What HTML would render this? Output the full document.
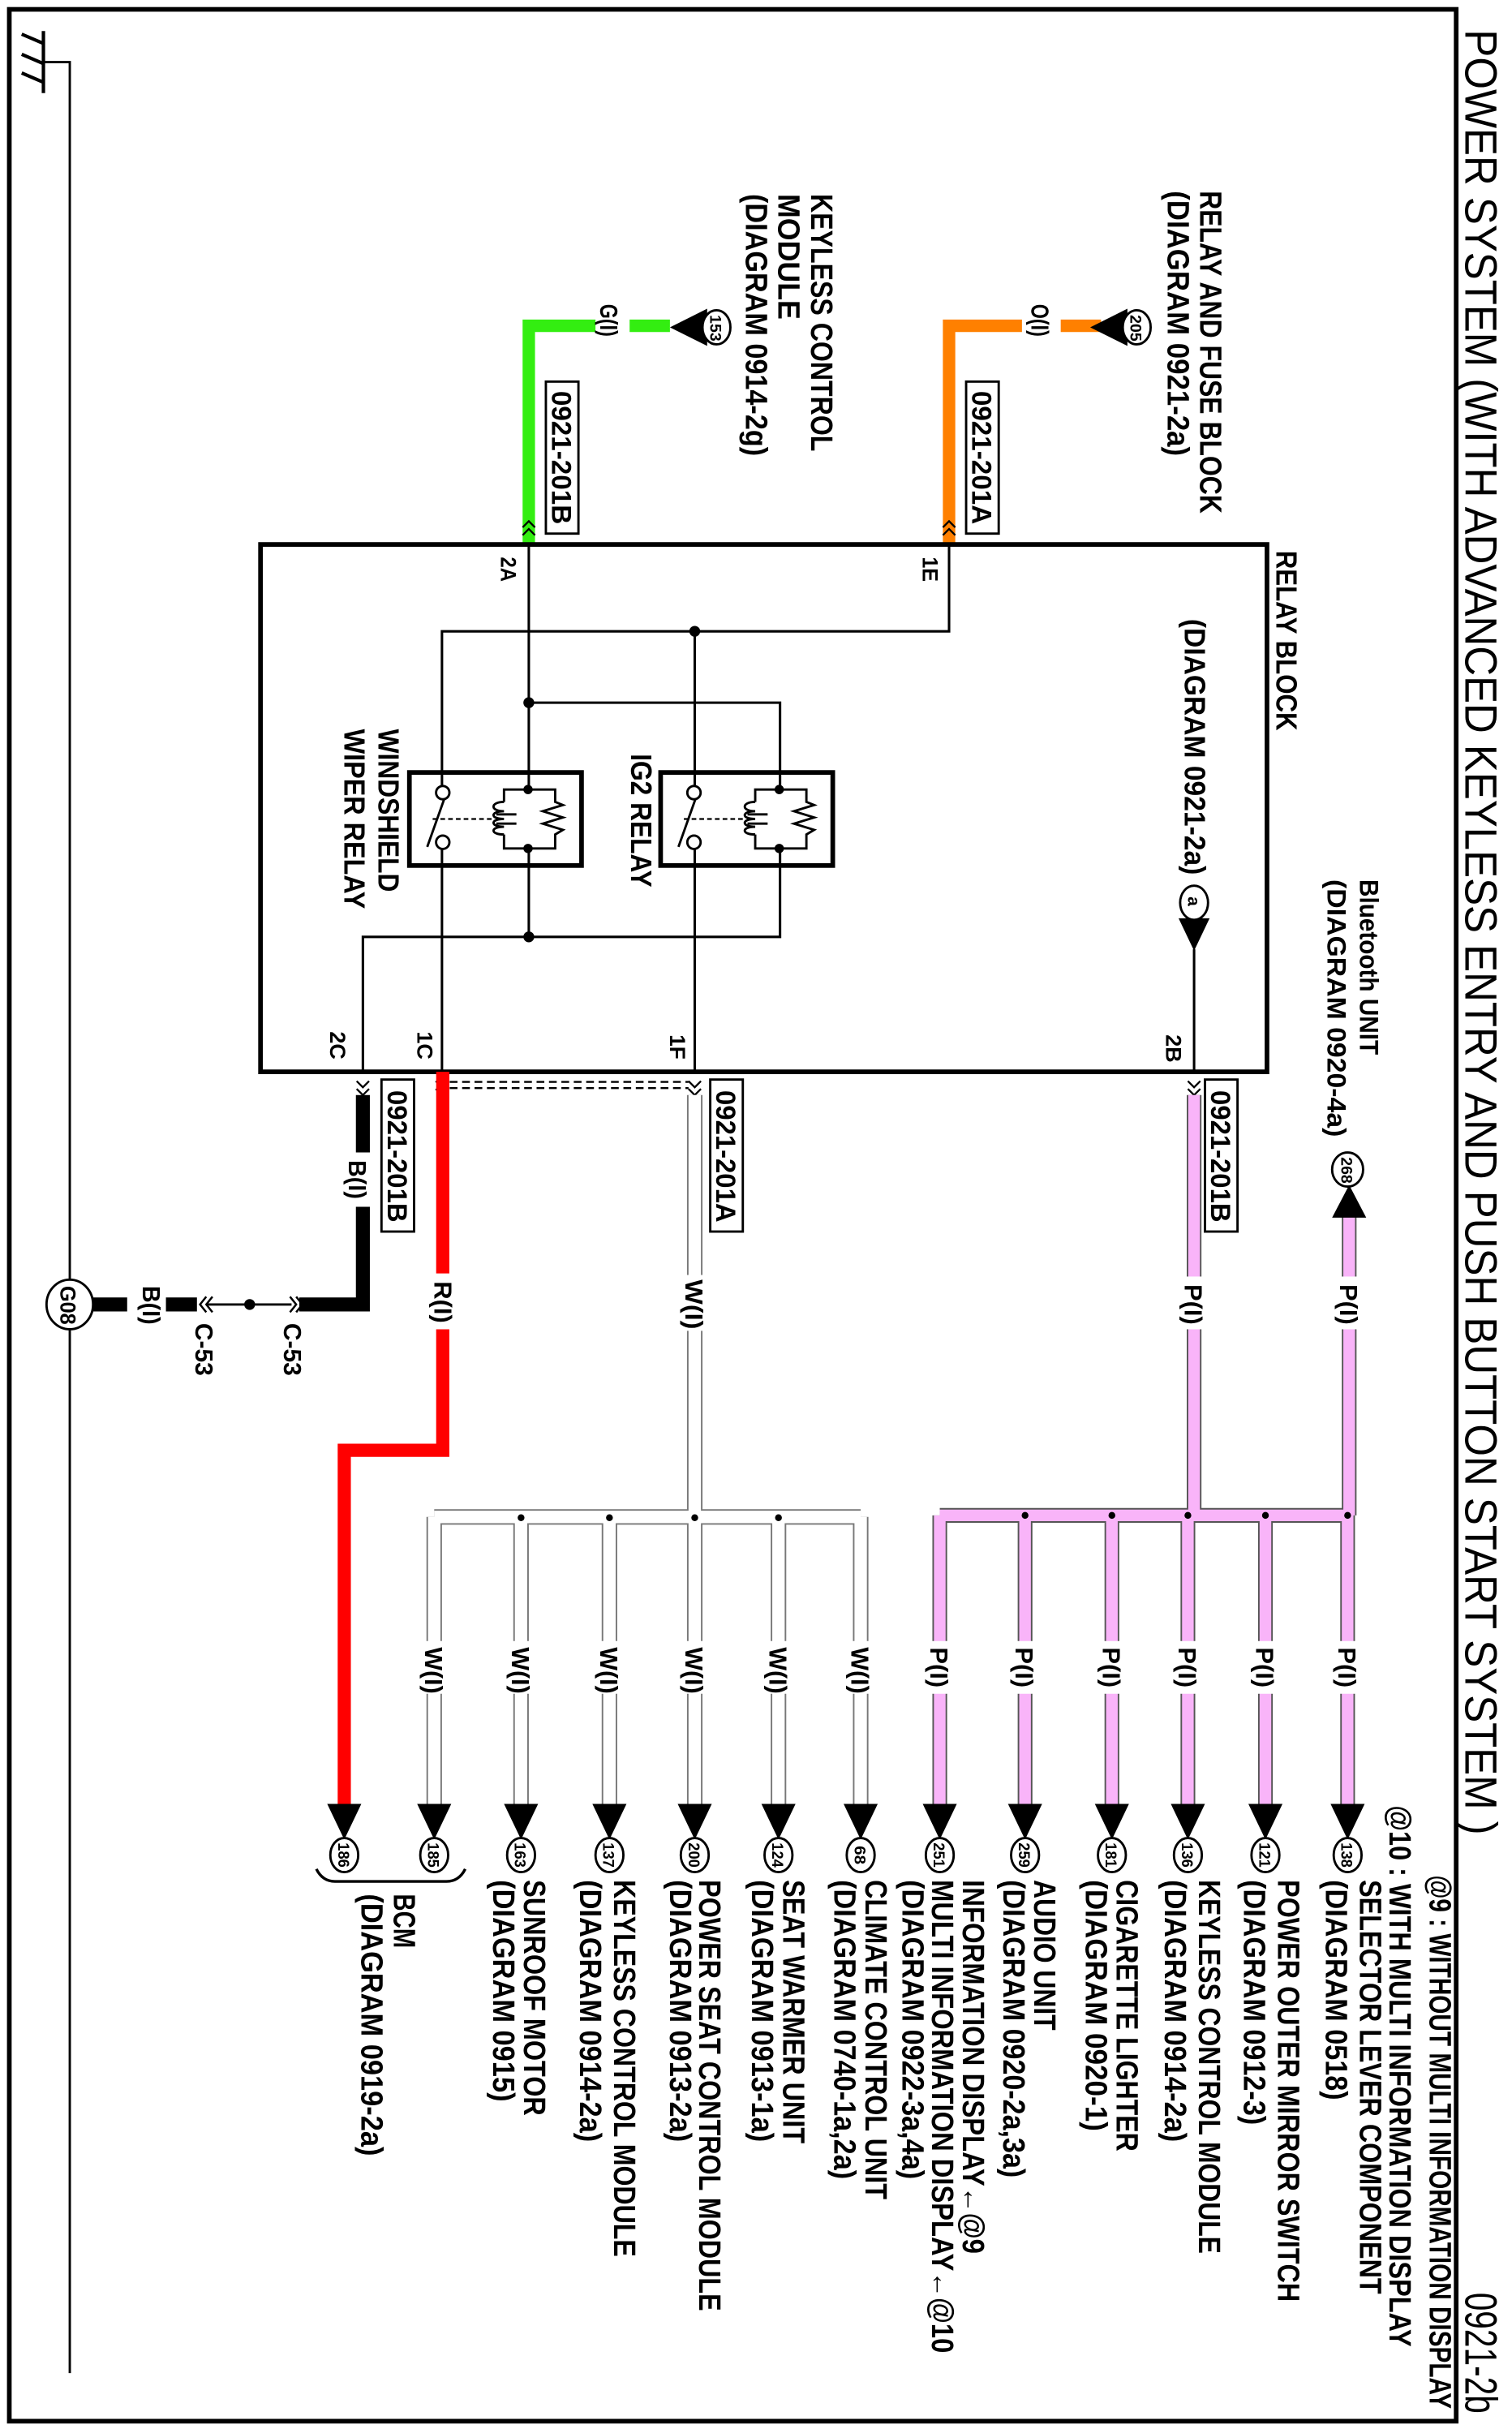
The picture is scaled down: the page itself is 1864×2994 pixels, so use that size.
<!DOCTYPE html>
<html><head><meta charset="utf-8"><style>
html,body{margin:0;padding:0;background:#fff;}
svg{display:block;}
text{font-family:"Liberation Sans",Arial,sans-serif;font-weight:bold;fill:#000;}
</style></head><body>
<svg width="1864" height="2994" viewBox="0 0 975 1566" xmlns="http://www.w3.org/2000/svg">
<rect x="0" y="0" width="975" height="1566" fill="#fff"/>
<!-- frame -->
<rect x="6" y="6" width="933" height="1555" fill="none" stroke="#000" stroke-width="3"/>
<!-- title -->
<text transform="translate(945,19) rotate(90)" font-size="29" style="font-weight:normal" textLength="1164" lengthAdjust="spacingAndGlyphs">POWER SYSTEM (WITH ADVANCED KEYLESS ENTRY AND PUSH BUTTON START SYSTEM )</text>
<text transform="translate(945,1478) rotate(90)" font-size="29" style="font-weight:normal" textLength="78" lengthAdjust="spacingAndGlyphs">0921-2b</text>

<!-- ground -->
<g stroke="#000" stroke-width="2.2" fill="none">
<line x1="28" y1="20" x2="28" y2="60"/>
<line x1="14" y1="22" x2="28" y2="28"/>
<line x1="14" y1="35" x2="28" y2="41"/>
<line x1="14" y1="47" x2="28" y2="53"/>
<polyline points="28,40 45,40 45,1530" stroke-width="1.5"/>
</g>

<!-- top inputs -->
<text transform="translate(774,123) rotate(90)" font-size="20" textLength="208" lengthAdjust="spacingAndGlyphs">RELAY AND FUSE BLOCK</text>
<text transform="translate(753,123) rotate(90)" font-size="20" textLength="171" lengthAdjust="spacingAndGlyphs">(DIAGRAM 0921-2a)</text>
<text transform="translate(523,125) rotate(90)" font-size="20" textLength="166" lengthAdjust="spacingAndGlyphs">KEYLESS CONTROL</text>
<text transform="translate(502,125) rotate(90)" font-size="20" textLength="81" lengthAdjust="spacingAndGlyphs">MODULE</text>
<text transform="translate(481,125) rotate(90)" font-size="20" textLength="169" lengthAdjust="spacingAndGlyphs">(DIAGRAM 0914-2g)</text>

<!-- orange -->
<g stroke="#ff8000" stroke-width="8" fill="none">
<line x1="710" y1="210" x2="684" y2="210"/>
<polyline points="659,210 612,210 612,350"/>
</g>
<text transform="translate(665,196) rotate(90)" font-size="16" textLength="21" lengthAdjust="spacingAndGlyphs">O(I)</text>
<polygon points="703,211 727,199 727,223" fill="#000"/>
<ellipse cx="733" cy="211" rx="9" ry="11" fill="#fff" stroke="#000" stroke-width="1.5"/>
<text transform="translate(729,203) rotate(90)" font-size="10" textLength="17" lengthAdjust="spacingAndGlyphs">205</text>
<rect x="623" y="246" width="21" height="98" fill="#fff" stroke="#000" stroke-width="1.5"/>
<text transform="translate(627,252) rotate(90)" font-size="18" textLength="86" lengthAdjust="spacingAndGlyphs">0921-201A</text>

<!-- green -->
<g stroke="#33ee11" stroke-width="8" fill="none">
<line x1="432" y1="210" x2="406" y2="210"/>
<polyline points="384,210 341,210 341,350"/>
</g>
<text transform="translate(387,196) rotate(90)" font-size="16" textLength="21" lengthAdjust="spacingAndGlyphs">G(I)</text>
<polygon points="432,211 456,199 456,223" fill="#000"/>
<ellipse cx="462" cy="211" rx="9" ry="11" fill="#fff" stroke="#000" stroke-width="1.5"/>
<text transform="translate(458,203) rotate(90)" font-size="10" textLength="17" lengthAdjust="spacingAndGlyphs">153</text>
<rect x="352" y="246" width="21" height="98" fill="#fff" stroke="#000" stroke-width="1.5"/>
<text transform="translate(356,252) rotate(90)" font-size="18" textLength="86" lengthAdjust="spacingAndGlyphs">0921-201B</text>

<!-- top chevrons -->
<g stroke="#000" stroke-width="1.2" fill="none">
<polyline points="608,340 612,336 616,340"/><polyline points="608,345 612,341 616,345"/>
<polyline points="337,340 341,336 345,340"/><polyline points="337,345 341,341 345,345"/>
</g>

<!-- relay block -->
<rect x="168" y="351" width="649" height="340" fill="none" stroke="#000" stroke-width="3"/>
<text transform="translate(823,355) rotate(90)" font-size="19" textLength="116" lengthAdjust="spacingAndGlyphs">RELAY BLOCK</text>
<text transform="translate(764,399) rotate(90)" font-size="19" textLength="165" lengthAdjust="spacingAndGlyphs">(DIAGRAM 0921-2a)</text>
<text transform="translate(244,470) rotate(90)" font-size="19" textLength="105" lengthAdjust="spacingAndGlyphs">WINDSHIELD</text>
<text transform="translate(222,470) rotate(90)" font-size="19" textLength="116" lengthAdjust="spacingAndGlyphs">WIPER RELAY</text>
<text transform="translate(407,486) rotate(90)" font-size="19" textLength="86" lengthAdjust="spacingAndGlyphs">IG2 RELAY</text>
<g font-size="14">
<text transform="translate(323,359) rotate(90)" font-size="14" textLength="16" lengthAdjust="spacingAndGlyphs">2A</text>
<text transform="translate(595,359) rotate(90)" font-size="14" textLength="16" lengthAdjust="spacingAndGlyphs">1E</text>
<text transform="translate(213,665) rotate(90)" font-size="14" textLength="18" lengthAdjust="spacingAndGlyphs">2C</text>
<text transform="translate(269,665) rotate(90)" font-size="14" textLength="18" lengthAdjust="spacingAndGlyphs">1C</text>
<text transform="translate(432,667) rotate(90)" font-size="14" textLength="16" lengthAdjust="spacingAndGlyphs">1F</text>
<text transform="translate(752,667) rotate(90)" font-size="14" textLength="18" lengthAdjust="spacingAndGlyphs">2B</text>
</g>
<!-- internal wiring -->
<g stroke="#000" stroke-width="1.6" fill="none">
<polyline points="612,351 612,407 285,407 285,507"/>
<line x1="448" y1="407" x2="448" y2="507"/>
<line x1="341" y1="351" x2="341" y2="509"/>
<polyline points="341,453 503,453 503,509"/>
<line x1="285" y1="547" x2="285" y2="691"/>
<line x1="448" y1="547" x2="448" y2="691"/>
<line x1="341" y1="547" x2="341" y2="604"/>
<polyline points="234,691 234,604 503,604 503,547"/>
<line x1="770" y1="612" x2="770" y2="691"/>
</g>
<g fill="#000">
<circle cx="448" cy="407" r="3.5"/><circle cx="341" cy="453" r="3.5"/><circle cx="341" cy="604" r="3.5"/>
</g>
<!-- relays -->
<g id="rl">
<rect x="264" y="498" width="111" height="60" fill="none" stroke="#000" stroke-width="3"/>
<circle cx="285.5" cy="511" r="4.3" fill="#fff" stroke="#000" stroke-width="1.5"/>
<circle cx="285.5" cy="543" r="4.3" fill="#fff" stroke="#000" stroke-width="1.5"/>
<line x1="275.5" y1="546" x2="286.5" y2="515" stroke="#000" stroke-width="1.5"/>
<line x1="279" y1="528" x2="318" y2="528" stroke="#000" stroke-width="1.2" stroke-dasharray="3,2"/>
<polyline points="325,517 325,509 358,509 358,517 363,519 350,523 363,527 350,531 363,535 358,538 358,547 325,547 325,538" fill="none" stroke="#000" stroke-width="1.5"/>
<path d="M325,517 c-9,0 -9,6 0,6 c-9,0 -9,5 0,5 c-9,0 -9,5 0,5 c-9,0 -9,5 0,5" fill="none" stroke="#000" stroke-width="1.5"/>
<line x1="320" y1="525" x2="333" y2="525" stroke="#000" stroke-width="1.5"/>
<line x1="320" y1="531" x2="333" y2="531" stroke="#000" stroke-width="1.5"/>
<circle cx="340.5" cy="509" r="3" fill="#000"/><circle cx="340.5" cy="547" r="3" fill="#000"/>
</g>
<use href="#rl" transform="translate(162,0)"/>
<!-- a -->
<polygon points="760,592 780,592 770,613" fill="#000"/>
<ellipse cx="770" cy="582" rx="9" ry="11" fill="#fff" stroke="#000" stroke-width="1.5"/>
<text transform="translate(766,578) rotate(90)" font-size="11">a</text>

<!-- bottom chevrons -->
<g stroke="#000" stroke-width="1.2" fill="none">
<polyline points="230,697 234,701 238,697"/><polyline points="230,702 234,706 238,702"/>
<polyline points="281,697 285,701 289,697"/><polyline points="281,702 285,706 289,702"/>
<polyline points="444,697 448,701 452,697"/><polyline points="444,702 448,706 452,702"/>
<polyline points="766,697 770,701 774,697"/><polyline points="766,702 770,706 774,702"/>
<line x1="290" y1="697.5" x2="444" y2="697.5" stroke-dasharray="5,3"/>
<line x1="290" y1="701.5" x2="444" y2="701.5" stroke-dasharray="5,3"/>
</g>

<!-- black wire -->
<g stroke="#000" stroke-width="9" fill="none">
<line x1="234" y1="706" x2="234" y2="743"/>
<polyline points="234,778 234,841 193,841"/>
<line x1="127" y1="841" x2="107" y2="841"/>
<line x1="82" y1="841" x2="58" y2="841"/>
</g>
<line x1="133" y1="841" x2="188" y2="841" stroke="#000" stroke-width="1.5"/>
<circle cx="161" cy="841" r="3.5" fill="#000"/>
<g stroke="#000" stroke-width="1.3" fill="none">
<polyline points="191,836 195,841 191,846"/><polyline points="187,836 191,841 187,846"/>
<polyline points="133,836 129,841 133,846"/><polyline points="137,836 133,841 137,846"/>
</g>
<text transform="translate(225,748) rotate(90)" font-size="16" textLength="25" lengthAdjust="spacingAndGlyphs">B(I)</text>
<text transform="translate(92,829) rotate(90)" font-size="16" textLength="25" lengthAdjust="spacingAndGlyphs">B(I)</text>
<text transform="translate(183,853) rotate(90)" font-size="16" textLength="34" lengthAdjust="spacingAndGlyphs">C-53</text>
<text transform="translate(126,853) rotate(90)" font-size="16" textLength="34" lengthAdjust="spacingAndGlyphs">C-53</text>
<ellipse cx="45" cy="841" rx="15" ry="16" fill="#fff" stroke="#000" stroke-width="1.5"/>
<text transform="translate(39,829) rotate(90)" font-size="14" textLength="25" lengthAdjust="spacingAndGlyphs">G08</text>
<rect x="246" y="696" width="21" height="98" fill="#fff" stroke="#000" stroke-width="1.5"/>
<text transform="translate(250,703) rotate(90)" font-size="18" textLength="85" lengthAdjust="spacingAndGlyphs">0921-201B</text>

<!-- red wire -->
<g stroke="#ff0000" stroke-width="8.5" fill="none">
<line x1="285.5" y1="691" x2="285.5" y2="821"/>
<polyline points="285.5,857 285.5,935 222,935 222,1163"/>
</g>
<text transform="translate(280,826) rotate(90)" font-size="16" textLength="27" lengthAdjust="spacingAndGlyphs">R(I)</text>

<!-- white wires -->
<g fill="none" stroke-linejoin="miter">
<g stroke="#777" stroke-width="10">
<path d="M448,706 V978 M280,978 H555 M280,978 V1163 M336,978 V1163 M393,978 V1163 M448,978 V1163 M502,978 V1163 M555,978 V1163"/>
</g>
<g stroke="#fff" stroke-width="8">
<path d="M448,706 V978 M280,978 H555 M280,978 V1163 M336,978 V1163 M393,978 V1163 M448,978 V1163 M502,978 V1163 M555,978 V1163"/>
</g>
</g>
<rect x="440" y="822" width="16" height="36" fill="#fff"/>
<text transform="translate(442,825) rotate(90)" font-size="16" textLength="32" lengthAdjust="spacingAndGlyphs">W(I)</text>
<g fill="#000">
<circle cx="336" cy="978.5" r="2.2"/><circle cx="393" cy="978.5" r="2.2"/><circle cx="448" cy="978.5" r="2.2"/><circle cx="502" cy="978.5" r="2.2"/>
</g>
<rect x="458" y="696" width="21" height="98" fill="#fff" stroke="#000" stroke-width="1.5"/>
<text transform="translate(462,703) rotate(90)" font-size="18" textLength="85" lengthAdjust="spacingAndGlyphs">0921-201A</text>

<!-- pink wires -->
<g fill="none">
<g stroke="#555" stroke-width="9.5">
<path d="M770,706 V977 M870,784 V977 M606,977 H870 M606,977 V1163 M661,977 V1163 M717,977 V1163 M766,977 V1163 M816,977 V1163 M869,977 V1163"/>
</g>
<g stroke="#f9b4f9" stroke-width="7.5">
<path d="M770,706 V977 M870,784 V977 M606,977 H870 M606,977 V1163 M661,977 V1163 M717,977 V1163 M766,977 V1163 M816,977 V1163 M869,977 V1163"/>
</g>
</g>
<g fill="#000">
<circle cx="661" cy="977" r="2.2"/><circle cx="717" cy="977" r="2.2"/><circle cx="766" cy="977" r="2.2"/><circle cx="816" cy="977" r="2.2"/><circle cx="869" cy="977" r="2.2"/>
</g>
<rect x="762" y="823" width="16" height="34" fill="#fff"/>
<text transform="translate(764,828) rotate(90)" font-size="16" textLength="26" lengthAdjust="spacingAndGlyphs">P(I)</text>
<rect x="862" y="823" width="16" height="34" fill="#fff"/>
<text transform="translate(864,828) rotate(90)" font-size="16" textLength="26" lengthAdjust="spacingAndGlyphs">P(I)</text>
<rect x="777" y="696" width="21" height="98" fill="#fff" stroke="#000" stroke-width="1.5"/>
<text transform="translate(781,703) rotate(90)" font-size="18" textLength="85" lengthAdjust="spacingAndGlyphs">0921-201B</text>
<!-- 268 -->
<polygon points="859,785 881,785 870,764" fill="#000"/>
<ellipse cx="869" cy="754" rx="10" ry="11" fill="#fff" stroke="#000" stroke-width="1.5"/>
<text transform="translate(865,746) rotate(90)" font-size="10" textLength="17" lengthAdjust="spacingAndGlyphs">268</text>
<text transform="translate(877,567) rotate(90)" font-size="17" textLength="113" lengthAdjust="spacingAndGlyphs">Bluetooth UNIT</text>
<text transform="translate(856,567) rotate(90)" font-size="17" textLength="166" lengthAdjust="spacingAndGlyphs">(DIAGRAM 0920-4a)</text>

<!-- branch labels -->
<g>
<rect x="272" y="1058" width="16" height="34" fill="#fff"/><text transform="translate(274,1062) rotate(90)" font-size="16" textLength="30" lengthAdjust="spacingAndGlyphs">W(I)</text>
<rect x="328" y="1058" width="16" height="34" fill="#fff"/><text transform="translate(330,1062) rotate(90)" font-size="16" textLength="30" lengthAdjust="spacingAndGlyphs">W(I)</text>
<rect x="385" y="1058" width="16" height="34" fill="#fff"/><text transform="translate(387,1062) rotate(90)" font-size="16" textLength="30" lengthAdjust="spacingAndGlyphs">W(I)</text>
<rect x="440" y="1058" width="16" height="34" fill="#fff"/><text transform="translate(442,1062) rotate(90)" font-size="16" textLength="30" lengthAdjust="spacingAndGlyphs">W(I)</text>
<rect x="494" y="1058" width="16" height="34" fill="#fff"/><text transform="translate(496,1062) rotate(90)" font-size="16" textLength="30" lengthAdjust="spacingAndGlyphs">W(I)</text>
<rect x="547" y="1058" width="16" height="34" fill="#fff"/><text transform="translate(549,1062) rotate(90)" font-size="16" textLength="30" lengthAdjust="spacingAndGlyphs">W(I)</text>
<rect x="598" y="1058" width="16" height="34" fill="#fff"/><text transform="translate(600,1062) rotate(90)" font-size="16" textLength="26" lengthAdjust="spacingAndGlyphs">P(I)</text>
<rect x="653" y="1058" width="16" height="34" fill="#fff"/><text transform="translate(655,1062) rotate(90)" font-size="16" textLength="26" lengthAdjust="spacingAndGlyphs">P(I)</text>
<rect x="709" y="1058" width="16" height="34" fill="#fff"/><text transform="translate(711,1062) rotate(90)" font-size="16" textLength="26" lengthAdjust="spacingAndGlyphs">P(I)</text>
<rect x="758" y="1058" width="16" height="34" fill="#fff"/><text transform="translate(760,1062) rotate(90)" font-size="16" textLength="26" lengthAdjust="spacingAndGlyphs">P(I)</text>
<rect x="808" y="1058" width="16" height="34" fill="#fff"/><text transform="translate(810,1062) rotate(90)" font-size="16" textLength="26" lengthAdjust="spacingAndGlyphs">P(I)</text>
<rect x="861" y="1058" width="16" height="34" fill="#fff"/><text transform="translate(863,1062) rotate(90)" font-size="16" textLength="26" lengthAdjust="spacingAndGlyphs">P(I)</text>
</g>

<!-- destination arrows -->
<g fill="#000">
<polygon points="211,1163 233,1163 222,1186"/>
<polygon points="269,1163 291,1163 280,1186"/>
<polygon points="325,1163 347,1163 336,1186"/>
<polygon points="382,1163 404,1163 393,1186"/>
<polygon points="437,1163 459,1163 448,1186"/>
<polygon points="491,1163 513,1163 502,1186"/>
<polygon points="544,1163 566,1163 555,1186"/>
<polygon points="595,1163 617,1163 606,1186"/>
<polygon points="650,1163 672,1163 661,1186"/>
<polygon points="706,1163 728,1163 717,1186"/>
<polygon points="755,1163 777,1163 766,1186"/>
<polygon points="805,1163 827,1163 816,1186"/>
<polygon points="858,1163 880,1163 869,1186"/>
</g>
<g fill="#fff" stroke="#000" stroke-width="1.5">
<ellipse cx="222" cy="1196" rx="9" ry="11"/><ellipse cx="280" cy="1196" rx="9" ry="11"/><ellipse cx="336" cy="1196" rx="9" ry="11"/>
<ellipse cx="393" cy="1196" rx="9" ry="11"/><ellipse cx="448" cy="1196" rx="9" ry="11"/><ellipse cx="502" cy="1196" rx="9" ry="11"/>
<ellipse cx="555" cy="1196" rx="9" ry="11"/><ellipse cx="606" cy="1196" rx="9" ry="11"/><ellipse cx="661" cy="1196" rx="9" ry="11"/>
<ellipse cx="717" cy="1196" rx="9" ry="11"/><ellipse cx="766" cy="1196" rx="9" ry="11"/><ellipse cx="816" cy="1196" rx="9" ry="11"/>
<ellipse cx="869" cy="1196" rx="9" ry="11"/>
</g>
<g font-size="10">
<text transform="translate(218,1188) rotate(90)" font-size="10" textLength="16" lengthAdjust="spacingAndGlyphs">186</text>
<text transform="translate(276,1188) rotate(90)" font-size="10" textLength="16" lengthAdjust="spacingAndGlyphs">185</text>
<text transform="translate(332,1188) rotate(90)" font-size="10" textLength="16" lengthAdjust="spacingAndGlyphs">163</text>
<text transform="translate(389,1188) rotate(90)" font-size="10" textLength="16" lengthAdjust="spacingAndGlyphs">137</text>
<text transform="translate(444,1188) rotate(90)" font-size="10" textLength="16" lengthAdjust="spacingAndGlyphs">200</text>
<text transform="translate(498,1188) rotate(90)" font-size="10" textLength="16" lengthAdjust="spacingAndGlyphs">124</text>
<text transform="translate(551,1190) rotate(90)" font-size="10" textLength="12" lengthAdjust="spacingAndGlyphs">68</text>
<text transform="translate(602,1188) rotate(90)" font-size="10" textLength="16" lengthAdjust="spacingAndGlyphs">251</text>
<text transform="translate(657,1188) rotate(90)" font-size="10" textLength="16" lengthAdjust="spacingAndGlyphs">259</text>
<text transform="translate(713,1188) rotate(90)" font-size="10" textLength="16" lengthAdjust="spacingAndGlyphs">181</text>
<text transform="translate(762,1188) rotate(90)" font-size="10" textLength="16" lengthAdjust="spacingAndGlyphs">136</text>
<text transform="translate(812,1188) rotate(90)" font-size="10" textLength="16" lengthAdjust="spacingAndGlyphs">121</text>
<text transform="translate(865,1188) rotate(90)" font-size="10" textLength="16" lengthAdjust="spacingAndGlyphs">138</text>
</g>
<path d="M204,1205 Q208,1213 216,1213 H288 Q296,1213 300,1205" fill="none" stroke="#000" stroke-width="1.8"/>

<!-- destination labels -->
<g font-size="20">
<text transform="translate(922,1209) rotate(90)" font-size="20" textLength="344" lengthAdjust="spacingAndGlyphs">@9 : WITHOUT MULTI INFORMATION DISPLAY</text>
<text transform="translate(896,1164) rotate(90)" font-size="20" textLength="349" lengthAdjust="spacingAndGlyphs">@10 : WITH MULTI INFORMATION DISPLAY</text>
<text transform="translate(877,1212) rotate(90)" font-size="20" textLength="267" lengthAdjust="spacingAndGlyphs">SELECTOR LEVER COMPONENT</text>
<text transform="translate(855,1212) rotate(90)" font-size="20" textLength="142" lengthAdjust="spacingAndGlyphs">(DIAGRAM 0518)</text>
<text transform="translate(824,1212) rotate(90)" font-size="20" textLength="272" lengthAdjust="spacingAndGlyphs">POWER OUTER MIRROR SWITCH</text>
<text transform="translate(802,1212) rotate(90)" font-size="20" textLength="158" lengthAdjust="spacingAndGlyphs">(DIAGRAM 0912-3)</text>
<text transform="translate(773,1212) rotate(90)" font-size="20" textLength="241" lengthAdjust="spacingAndGlyphs">KEYLESS CONTROL MODULE</text>
<text transform="translate(751,1212) rotate(90)" font-size="20" textLength="169" lengthAdjust="spacingAndGlyphs">(DIAGRAM 0914-2a)</text>
<text transform="translate(720,1212) rotate(90)" font-size="20" textLength="175" lengthAdjust="spacingAndGlyphs">CIGARETTE LIGHTER</text>
<text transform="translate(700,1212) rotate(90)" font-size="20" textLength="162" lengthAdjust="spacingAndGlyphs">(DIAGRAM 0920-1)</text>
<text transform="translate(667,1212) rotate(90)" font-size="20" textLength="97" lengthAdjust="spacingAndGlyphs">AUDIO UNIT</text>
<text transform="translate(647,1212) rotate(90)" font-size="20" textLength="192" lengthAdjust="spacingAndGlyphs">(DIAGRAM 0920-2a,3a)</text>
<text transform="translate(621,1212) rotate(90)" font-size="20" textLength="241" lengthAdjust="spacingAndGlyphs">INFORMATION DISPLAY←@9</text>
<text transform="translate(601,1212) rotate(90)" font-size="20" textLength="305" lengthAdjust="spacingAndGlyphs">MULTI INFORMATION DISPLAY←@10</text>
<text transform="translate(582,1212) rotate(90)" font-size="20" textLength="193" lengthAdjust="spacingAndGlyphs">(DIAGRAM 0922-3a,4a)</text>
<text transform="translate(558,1212) rotate(90)" font-size="20" textLength="206" lengthAdjust="spacingAndGlyphs">CLIMATE CONTROL UNIT</text>
<text transform="translate(538,1212) rotate(90)" font-size="20" textLength="193" lengthAdjust="spacingAndGlyphs">(DIAGRAM 0740-1a,2a)</text>
<text transform="translate(505,1212) rotate(90)" font-size="20" textLength="170" lengthAdjust="spacingAndGlyphs">SEAT WARMER UNIT</text>
<text transform="translate(485,1212) rotate(90)" font-size="20" textLength="169" lengthAdjust="spacingAndGlyphs">(DIAGRAM 0913-1a)</text>
<text transform="translate(451,1212) rotate(90)" font-size="20" textLength="278" lengthAdjust="spacingAndGlyphs">POWER SEAT CONTROL MODULE</text>
<text transform="translate(432,1212) rotate(90)" font-size="20" textLength="169" lengthAdjust="spacingAndGlyphs">(DIAGRAM 0913-2a)</text>
<text transform="translate(396,1212) rotate(90)" font-size="20" textLength="243" lengthAdjust="spacingAndGlyphs">KEYLESS CONTROL MODULE</text>
<text transform="translate(374,1212) rotate(90)" font-size="20" textLength="169" lengthAdjust="spacingAndGlyphs">(DIAGRAM 0914-2a)</text>
<text transform="translate(338,1212) rotate(90)" font-size="20" textLength="152" lengthAdjust="spacingAndGlyphs">SUNROOF MOTOR</text>
<text transform="translate(318,1212) rotate(90)" font-size="20" textLength="143" lengthAdjust="spacingAndGlyphs">(DIAGRAM 0915)</text>
<text transform="translate(254,1221) rotate(90)" font-size="20" textLength="35" lengthAdjust="spacingAndGlyphs">BCM</text>
<text transform="translate(233,1221) rotate(90)" font-size="20" textLength="169" lengthAdjust="spacingAndGlyphs">(DIAGRAM 0919-2a)</text>
</g>
</svg>
</body></html>
